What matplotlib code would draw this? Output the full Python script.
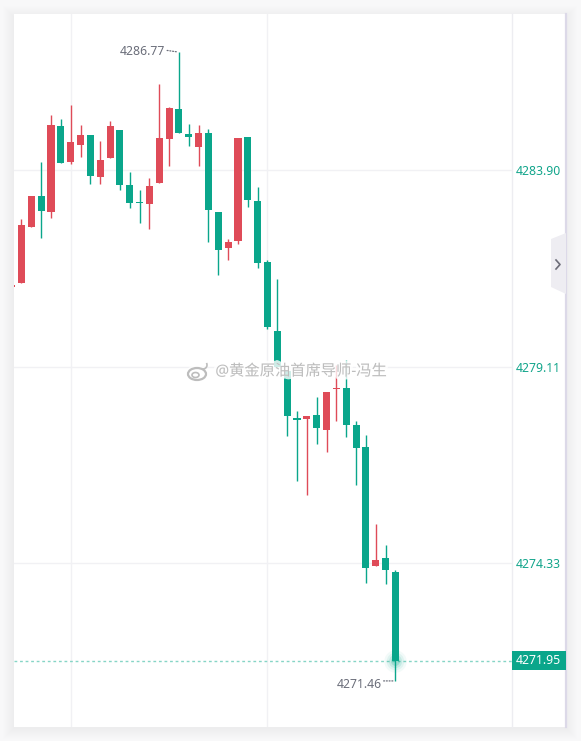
import matplotlib
matplotlib.use('Agg')
import matplotlib.pyplot as plt
import matplotlib.patheffects as pe
import matplotlib.transforms as mtransforms
from matplotlib.patches import Rectangle, Polygon, Ellipse, Arc
import numpy as np

plt.rcParams['font.family'] = ['Noto Sans', 'Noto Sans CJK SC', 'DejaVu Sans']

# ---------------- data ----------------
opens = [4281.04, 4281.16, 4282.52, 4283.27, 4282.88, 4284.97, 4284.10, 4284.52, 4284.75, 4283.74,
         4284.20, 4284.87, 4283.53, 4283.13, 4283.06, 4283.59, 4284.66, 4285.39, 4284.78, 4284.47,
         4284.80, 4282.88, 4282.01, 4282.18, 4284.70, 4283.15, 4281.66, 4279.98, 4279.01, 4277.84,
         4277.84, 4277.93, 4277.58, 4278.56, 4278.59, 4277.69, 4277.16, 4274.27, 4274.45, 4274.11]
highs = [4281.10, 4282.71, 4283.27, 4284.09, 4285.24, 4285.14, 4285.48, 4285.00, 4284.75, 4284.61,
         4285.09, 4284.87, 4283.85, 4283.41, 4283.71, 4285.99, 4285.44, 4286.77, 4285.02, 4285.00,
         4284.90, 4282.88, 4282.22, 4284.68, 4284.70, 4283.49, 4281.71, 4281.25, 4279.01, 4278.02,
         4277.91, 4278.37, 4278.49, 4279.15, 4279.27, 4277.78, 4277.45, 4275.28, 4274.77, 4274.16]
lows = [4281.03, 4281.16, 4282.52, 4282.25, 4282.74, 4284.08, 4284.05, 4284.22, 4283.57, 4283.57,
        4284.20, 4283.42, 4282.98, 4282.62, 4282.47, 4283.59, 4284.00, 4284.81, 4284.48, 4284.00,
        4282.15, 4281.35, 4281.72, 4282.11, 4283.01, 4281.51, 4280.03, 4279.10, 4277.43, 4276.33,
        4275.99, 4277.24, 4277.04, 4277.80, 4277.41, 4276.24, 4273.85, 4274.27, 4273.83, 4271.46]
closes = [4281.09, 4282.56, 4283.27, 4282.91, 4285.00, 4284.08, 4284.58, 4284.75, 4283.76, 4284.14,
          4284.97, 4283.54, 4283.10, 4283.10, 4283.51, 4284.68, 4285.41, 4284.81, 4284.71, 4284.80,
          4282.93, 4281.96, 4282.15, 4284.68, 4283.18, 4281.64, 4280.08, 4279.10, 4277.92, 4277.82,
          4277.91, 4277.63, 4278.49, 4278.60, 4277.70, 4277.14, 4274.22, 4274.40, 4274.17, 4271.95]
price_ticks = [4283.90, 4279.11, 4274.33]
price_tick_labels = ['4283.90', '4279.11', '4274.33']
time_grid = [6, 26]
last_price = 4271.95
last_label = '4271.95'
high_label = '4286.77'
low_label = '4271.46'
watermark = '@黄金原油首席导师-冯生'

UP = '#df4b58'
DOWN = '#0aa68b'
W, H = 581, 741

fig = plt.figure(figsize=(W / 100, H / 100), dpi=100)
fig.patch.set_facecolor('#f8f8f9')

# background card
bg = fig.add_axes([0, 0, 1, 1], zorder=0)
bg.set_xlim(0, W)
bg.set_ylim(H, 0)
bg.axis('off')
for k in range(1, 12):
    bg.add_patch(Rectangle((14 - k, 14 - k + 3), 552 + 2 * k, 713 + 2 * k - 2,
                           facecolor='#000000', alpha=0.005, lw=0))
bg.add_patch(Rectangle((14, 14), 552, 713, facecolor='white', lw=0))
bg.plot([512, 512], [14, 727], color='#ededf1', lw=1)
bg.plot([566, 566], [14, 727], color='#dcd9e8', lw=1.6)

# chart axes
ax = fig.add_axes([14 / W, 14 / H, 498 / W, 713 / H], zorder=1)
ax.set_facecolor('none')
n = len(opens)
xs = np.arange(n)
o = np.array(opens); h = np.array(highs); l = np.array(lows); c = np.array(closes)
colors = [UP if cc >= oo else DOWN for oo, cc in zip(o, c)]
ax.vlines(xs, l, h, colors=colors, lw=1.0, zorder=3)
body_bottom = np.minimum(o, c)
body_h = np.maximum(np.abs(c - o), 0.03)
ax.bar(xs, body_h, bottom=body_bottom, width=0.72, color=colors, lw=0, zorder=4)

ax.set_xlim(0.238, 50.85)
ax.set_ylim(4270.338, 4287.698)
ax.yaxis.tick_right()
ax.set_yticks(price_ticks, price_tick_labels)
ax.set_xticks(time_grid)
ax.tick_params(axis='x', length=0, labelbottom=False)
ax.tick_params(axis='y', length=0, pad=3, labelcolor='#12a58b', labelsize=8.8)
ax.grid(True, color='#f1f1f4', lw=1, zorder=0)
for sp in ax.spines.values():
    sp.set_visible(False)

# last price line, label and glow
ax.axhline(last_price, color='#86d5c6', lw=1, ls=(0, (2, 2)), zorder=2)
ppu = 713 / (4287.698 - 4270.338)
trans = mtransforms.blended_transform_factory(ax.transAxes, ax.transData)
ax.add_patch(Rectangle((1.0, last_price - 9.5 / ppu), 54 / 498, 19 / ppu, transform=trans,
                       facecolor=DOWN, lw=0, clip_on=False, zorder=5))
ax.text(1.0 + 4 / 498, last_price, last_label, transform=trans, ha='left', va='center',
        color='white', fontsize=8.8, clip_on=False, zorder=6)
for s, a in [(260, 0.05), (160, 0.08), (90, 0.12), (40, 0.2)]:
    ax.scatter([n - 1], [last_price], s=s, color=DOWN, alpha=a, lw=0, zorder=5)

# high / low annotations
ih = int(np.argmax(h)); il = int(np.argmin(l))
ax.annotate(high_label, xy=(ih, h[ih]), xytext=(-10, 0.2), textcoords='offset points',
            ha='right', va='center', color='#6b6e7a', fontsize=8.8, zorder=6)
ax.annotate('', xy=(ih, h[ih]), xytext=(-8.5, 1.2), textcoords='offset points',
            arrowprops=dict(arrowstyle='-', ls=(0, (0.8, 1.4)), color='#6b6e7a', lw=0.9,
                            shrinkA=0, shrinkB=1.5))
ax.annotate(low_label, xy=(il, l[il]), xytext=(-10, -2.4), textcoords='offset points',
            ha='right', va='center', color='#6b6e7a', fontsize=8.8, zorder=6)
ax.annotate('', xy=(il, l[il]), xytext=(-8.5, 0), textcoords='offset points',
            arrowprops=dict(arrowstyle='-', ls=(0, (0.8, 1.4)), color='#6b6e7a', lw=0.9,
                            shrinkA=0, shrinkB=1.5))

# overlay: watermark and side button
ov = fig.add_axes([0, 0, 1, 1], zorder=2)
ov.set_facecolor('none')
ov.set_xlim(0, W)
ov.set_ylim(H, 0)
ov.axis('off')
glow = [pe.withStroke(linewidth=4, foreground='white', alpha=0.8)]
ov.text(301, 372, watermark, ha='center', va='center', fontsize=11, color='#bdbdbd',
        path_effects=glow, zorder=5)
ov.add_patch(Ellipse((197, 374), 18, 12, fill=False, ec='#bdbdbd', lw=1.6, zorder=5,
                     path_effects=glow))
ov.add_patch(Ellipse((195.5, 375), 7, 5, fill=False, ec='#bdbdbd', lw=1.2, zorder=5))
ov.add_patch(Arc((203, 365), 8, 8, theta1=-30, theta2=90, ec='#bdbdbd', lw=1.2, zorder=5))

ov.add_patch(Polygon([(566, 233), (551, 239), (551, 287), (566, 294)], closed=True,
                     facecolor='#eeedf2', lw=0, zorder=5))
ov.plot([556, 560, 556], [260, 264.5, 269], color='#6c6c78', lw=1.2, zorder=6)

fig.savefig('out.png', dpi=100, facecolor=fig.get_facecolor())
